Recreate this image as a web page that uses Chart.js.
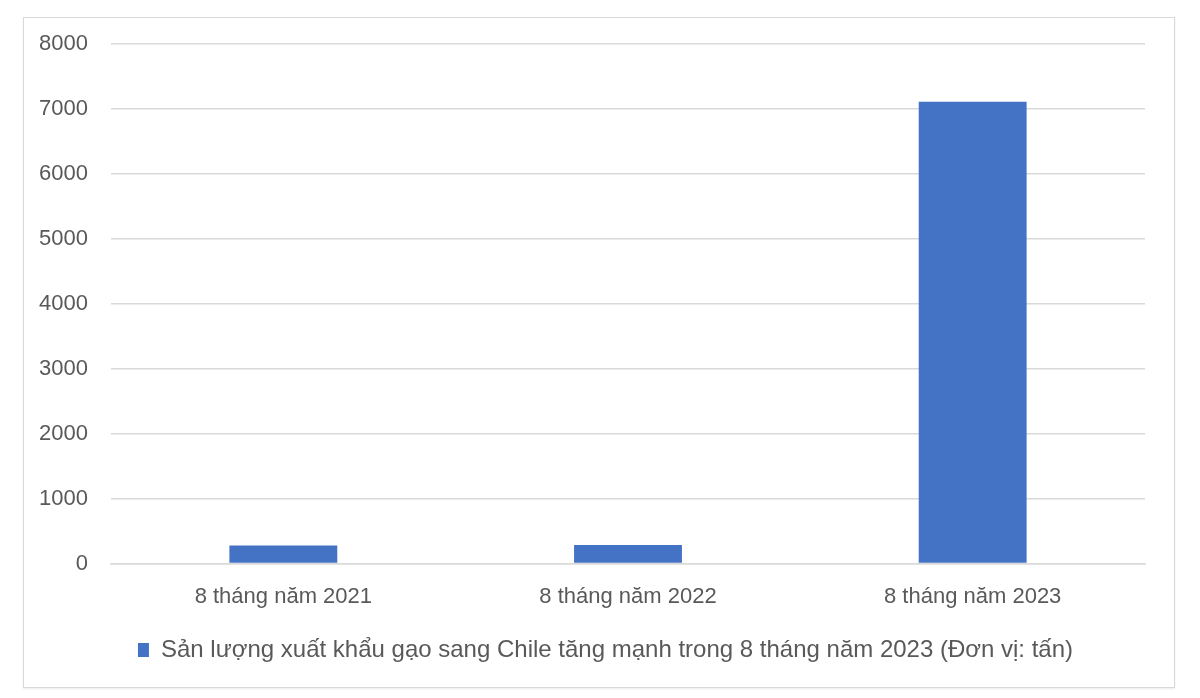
<!DOCTYPE html>
<html><head><meta charset="utf-8">
<script src="https://cdn.jsdelivr.net/npm/chart.js@4"></script>
<style>
html,body{margin:0;padding:0;background:#fff;width:1200px;height:698px;overflow:hidden}
#box{position:absolute;left:23px;top:17px;width:1150px;height:669px;border:1px solid #d9d9d9;box-shadow:0 1px 2px rgba(0,0,0,0.08)}
#wrap{position:absolute;left:0;top:0;width:1150px;height:669px}
</style></head><body>
<div id="box"><div id="wrap"><canvas id="c"></canvas></div></div>
<script>
const categories = ["8 tháng năm 2021", "8 tháng năm 2022", "8 tháng năm 2023"];
const seriesLabel = "Sản lượng xuất khẩu gạo sang Chile tăng mạnh trong 8 tháng năm 2023 (Đơn vị: tấn)";
const values = [280, 285, 7110];
const yTicks = [0, 1000, 2000, 3000, 4000, 5000, 6000, 7000, 8000];

const FONT = "'Liberation Sans', Arial, sans-serif";
const shiftLegend = {
  id: 'shiftLegend',
  afterLayout(chart) {
    if (chart.legend) { chart.legend.left += 21; chart.legend.right += 21; }
  }
};
new Chart(document.getElementById('c'), {
  type: 'bar',
  plugins: [shiftLegend],
  data: {
    labels: categories,
    datasets: [{
      label: seriesLabel,
      data: values,
      backgroundColor: '#4472C4',
      borderWidth: 0,
      categoryPercentage: 1,
      barPercentage: 0.313
    }]
  },
  options: {
    responsive: true,
    maintainAspectRatio: false,
    animation: false,
    layout: { padding: { top: 26, right: 29, bottom: 15, left: 0 } },
    plugins: {
      tooltip: { enabled: false },
      legend: {
        position: 'bottom',
        labels: {
          color: '#595959',
          font: { family: FONT, size: 24 },
          boxWidth: 11, boxHeight: 14,
          padding: 12
        }
      }
    },
    scales: {
      x: {
        grid: { display: false, drawTicks: false },
        border: { color: '#d9d9d9', width: 1.5 },
        ticks: { color: '#595959', font: { family: FONT, size: 22 }, padding: 20 },
        afterFit: ax => { ax.height -= 4; }
      },
      y: {
        min: yTicks[0], max: yTicks[yTicks.length - 1],
        afterBuildTicks: ax => { ax.ticks = yTicks.map(v => ({ value: v })); },
        grid: { color: '#d9d9d9', lineWidth: 1.5, drawTicks: false },
        border: { display: false },
        ticks: { color: '#595959', font: { family: FONT, size: 22 }, padding: 23, callback: v => String(v) },
        afterFit: ax => { ax.width = 87; ax.paddingTop = 0; ax.paddingBottom = 0; }
      }
    }
  }
});
</script>
</body></html>
